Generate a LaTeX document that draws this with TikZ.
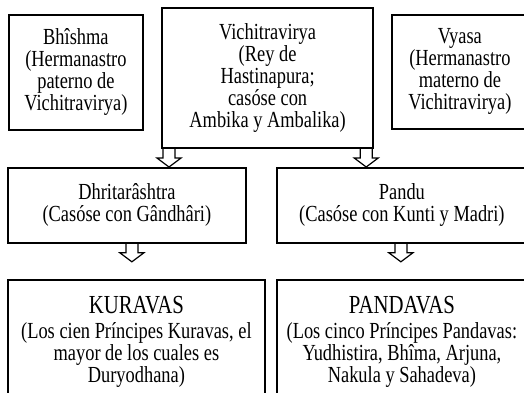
\documentclass[tikz,border=0pt]{standalone}
\usepackage{fontspec}
\setmainfont{Liberation Serif}[FakeStretch=0.8]
\usepackage{tikz}
\usetikzlibrary{calc}
\newcommand{\titulo}[1]{{\fontsize{26}{25}\selectfont #1}}

\begin{document}
\begin{tikzpicture}[
  x=1pt, y=-1pt,
  caja/.style={rectangle, draw, line width=1.8pt, inner sep=0pt,
               align=center, anchor=north west,
               font=\fontsize{23}{22}\selectfont},
  bloque/.style={draw, line width=1.2pt, to path={
    let \p1=(\tikztostart), \p2=(\tikztotarget) in
    (\x1-6pt,\y1) -- (\x1-6pt,\y2+9pt) -- (\x1-12pt,\y2+9pt) -- (\x1,\y2)
    -- (\x1+12pt,\y2+9pt) -- (\x1+6pt,\y2+9pt) -- (\x1+6pt,\y1)}}
]
\useasboundingbox[fill=white] (0,0) rectangle (524,392);

% Fila superior
\node[caja, minimum width=134pt, minimum height=115pt] (bhishma) at (8,14)
  {Bhîshma\\(Hermanastro\\paterno de\\Vichitravirya)};
\node[caja, line width=2.2pt, minimum width=211pt, minimum height=140pt] (vichi) at (161,7)
  {Vichitravirya\\(Rey de\\Hastinapura;\\casóse con\\Ambika y Ambalika)};
\node[caja, minimum width=136pt, minimum height=114pt] (vyasa) at (391,14)
  {Vyasa\\(Hermanastro\\materno de\\Vichitravirya)};

% Hijos
\node[caja, minimum width=238pt, minimum height=75pt] (dhrita) at (7,167)
  {Dhritarâshtra\\(Casóse con Gândhâri)};
\node[caja, minimum width=250pt, minimum height=75pt] (pandu) at (276,167)
  {Pandu\\(Casóse con Kunti y Madri)};

% Descendientes
\node[caja, minimum width=257pt, minimum height=123pt] (kuravas) at (7,279)
  {\titulo{KURAVAS}\\[3pt](Los cien Príncipes Kuravas, el\\mayor de los cuales es\\Duryodhana)};
\node[caja, minimum width=250pt, minimum height=123pt] (pandavas) at (276,279)
  {\titulo{PANDAVAS}\\[3pt](Los cinco Príncipes Pandavas:\\Yudhistira, Bhîma, Arjuna,\\Nakula y Sahadeva)};

% Flechas
\coordinate (puntaK) at ([yshift=-18pt]dhrita.south);
\coordinate (puntaP) at ([yshift=-18pt]pandu.south);
\draw[bloque] ([xshift=8pt]vichi.south west) to (dhrita.north);
\draw[bloque] ([xshift=-8pt]vichi.south east) to (pandu.north);
\draw[bloque] ([xshift=5pt]dhrita.south) to (puntaK);
\draw[bloque] ([xshift=-1pt]pandu.south) to (puntaP);
\end{tikzpicture}
\end{document}
